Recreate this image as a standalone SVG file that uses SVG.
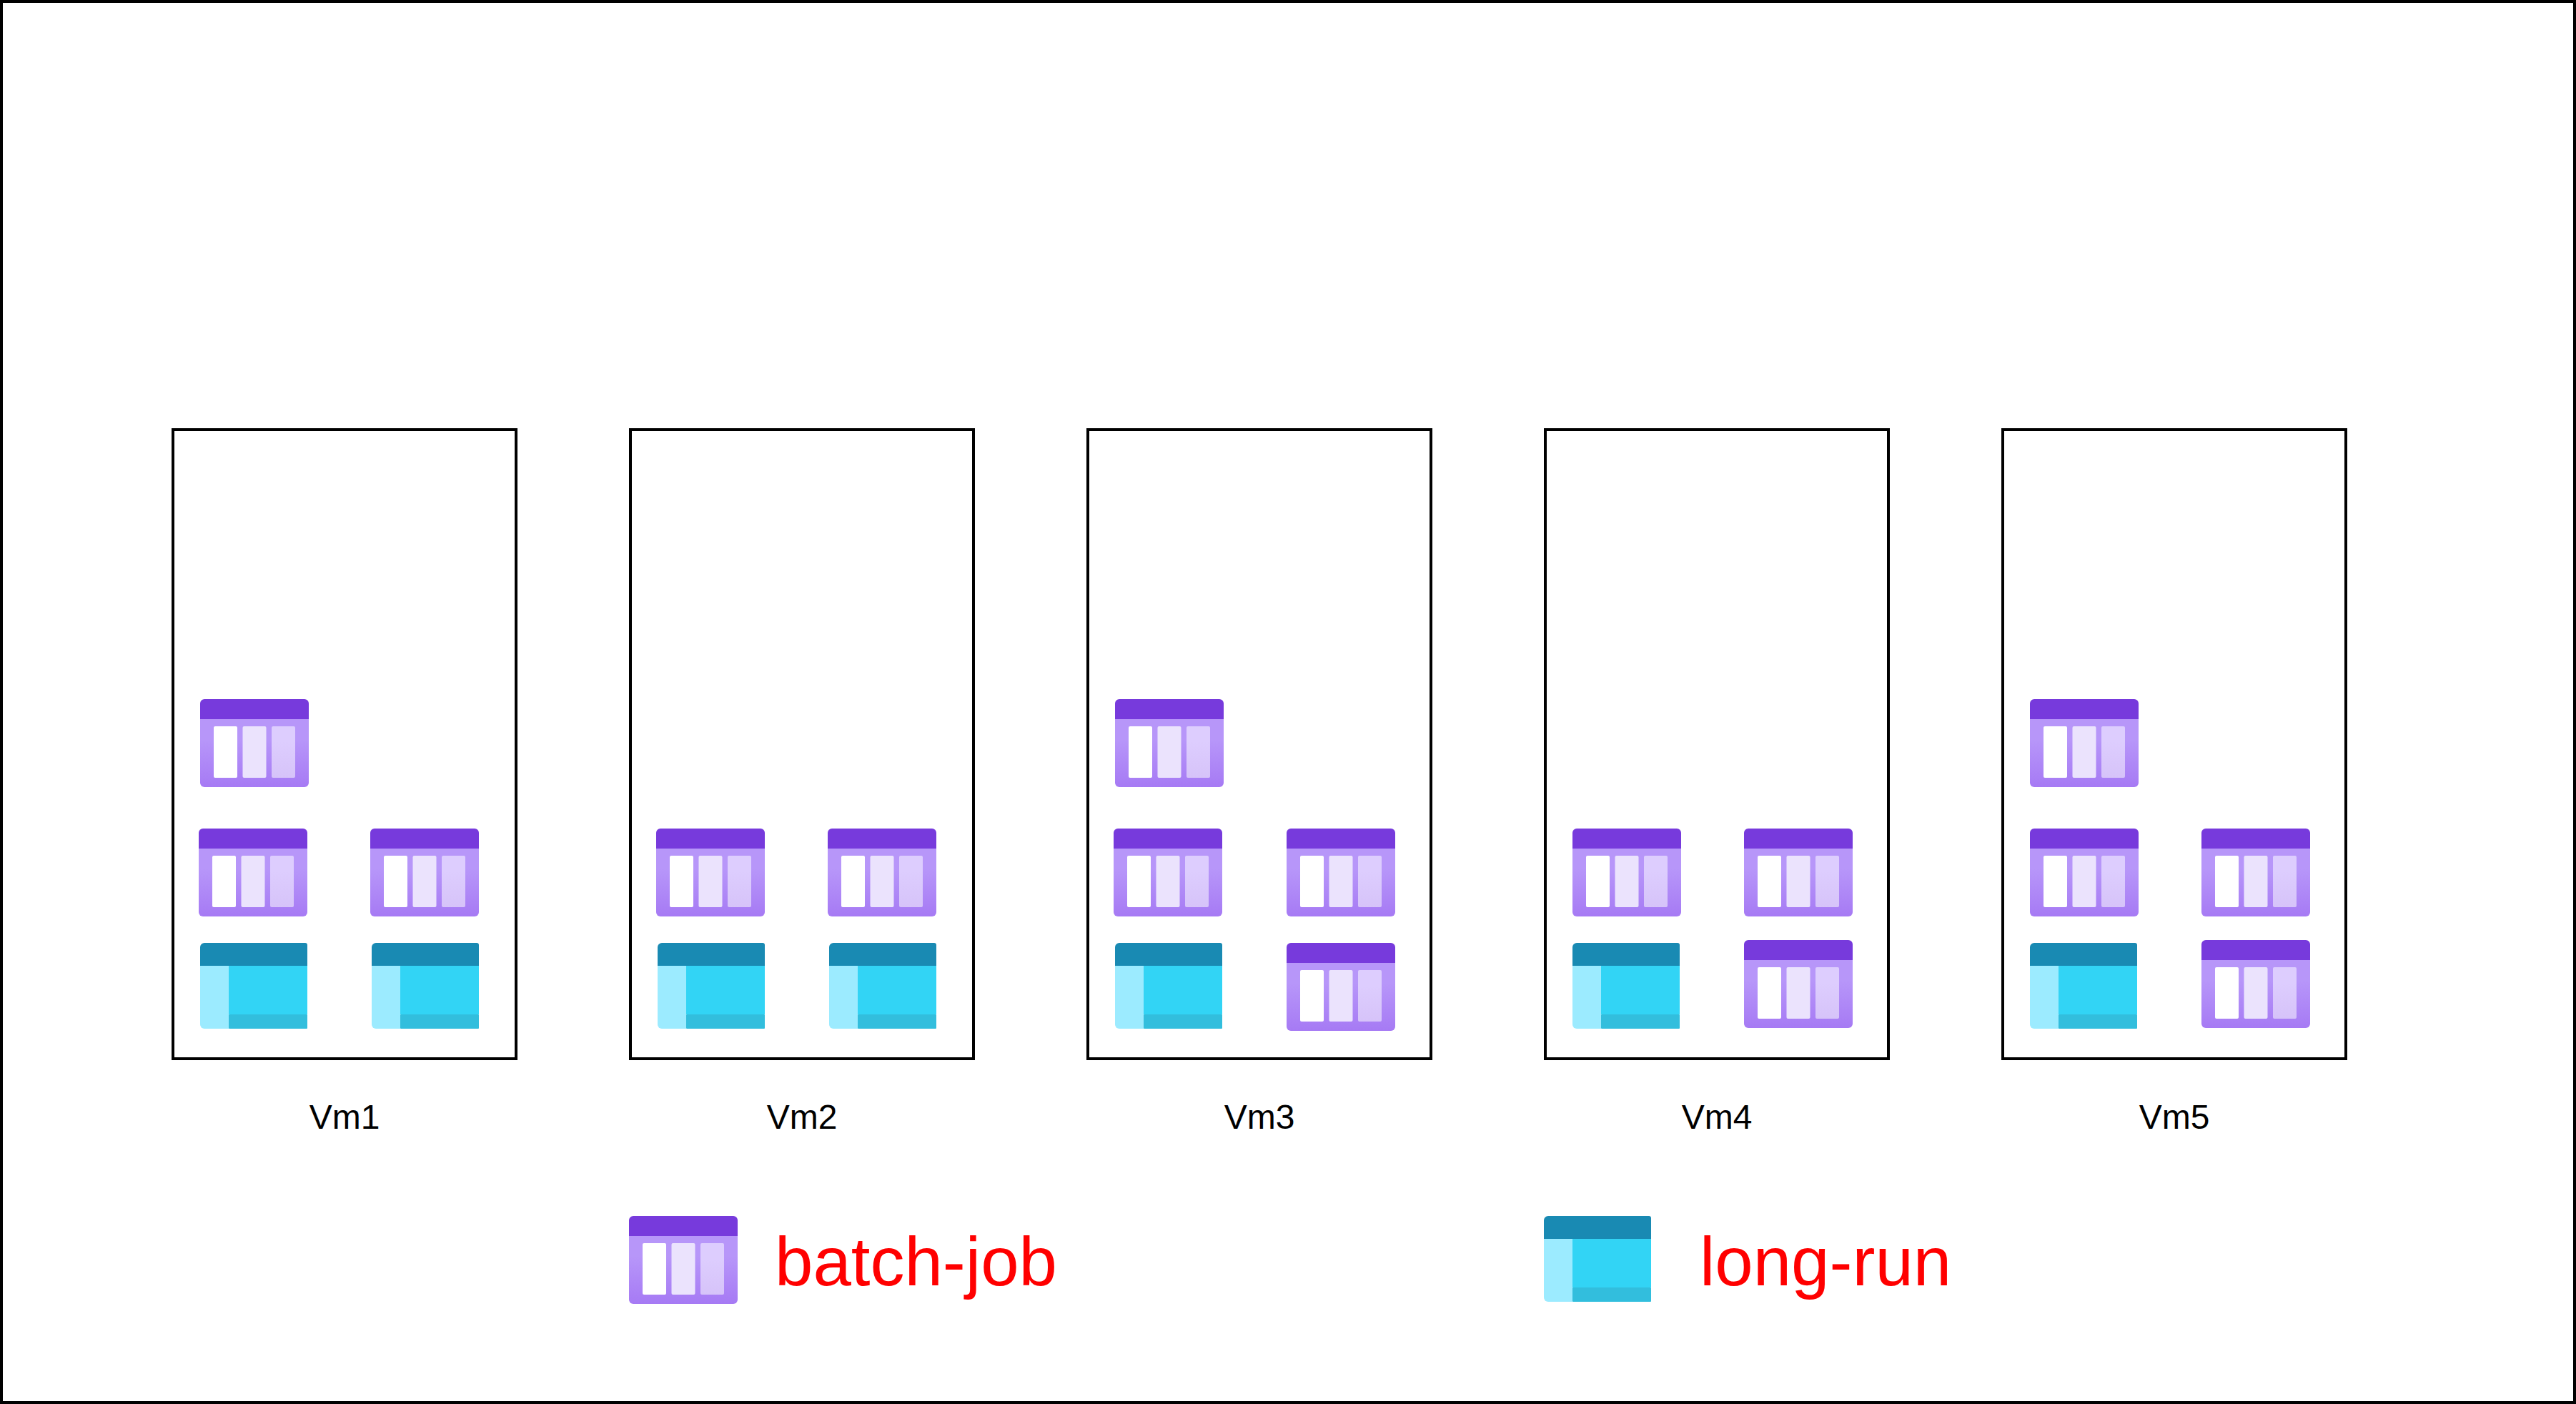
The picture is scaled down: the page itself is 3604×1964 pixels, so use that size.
<svg xmlns="http://www.w3.org/2000/svg" width="3604" height="1964" viewBox="0 0 3604 1964">
<style>
.box{fill:#fff;stroke:#000;stroke-width:4}
.vm{font-family:"Liberation Sans",Arial,sans-serif;font-size:48px;fill:#000;text-anchor:middle}
.leg{font-family:"Liberation Sans",Arial,sans-serif;font-size:96px;fill:#f00}
</style>
<defs>
<linearGradient id="pb" x1="0" y1="0" x2="0" y2="1"><stop offset="0.3" stop-color="#b796f9"/><stop offset="1" stop-color="#a67af4"/></linearGradient>
<linearGradient id="p3" x1="0" y1="0" x2="0" y2="1"><stop offset="0.3" stop-color="#ddcdfe"/><stop offset="1" stop-color="#d6c3f9"/></linearGradient>
<symbol id="batch" width="152" height="123" viewBox="0 0 152 123" overflow="visible">
<path d="M0 28H152V117a6 6 0 0 1-6 6H6a6 6 0 0 1-6-6Z" fill="url(#pb)"/>
<path d="M6 0H146a6 6 0 0 1 6 6V28H0V6a6 6 0 0 1 6-6Z" fill="#773adc"/>
<rect x="19" y="38" width="33" height="72" rx="2" fill="#fff"/>
<rect x="59.500" y="38" width="33" height="72" rx="2" fill="#ebe3fd"/>
<rect x="100" y="38" width="33" height="72" rx="2" fill="url(#p3)"/>
</symbol>
<symbol id="longrun" width="150" height="120" viewBox="0 0 150 120" overflow="visible">
<rect x="40" y="31" width="110" height="69" fill="#32d4f5"/>
<rect x="40" y="100" width="110" height="20" rx="1" fill="#32bedd"/>
<path d="M0 31H40V120H6a6 6 0 0 1-6-6Z" fill="#9cebff"/>
<path d="M6 0H147a3 3 0 0 1 3 3V32H0V6a6 6 0 0 1 6-6Z" fill="#198ab3"/>
</symbol>
</defs>
<rect x="0" y="0" width="3604" height="1964" fill="#fff"/>
<rect id="frame" class="box" x="2" y="2" width="3600" height="1960"/>
<g id="vm1"><rect class="box" x="242" y="601" width="480" height="880"/><text class="vm" x="482" y="1579">Vm1</text></g>
<g id="vm2"><rect class="box" x="882" y="601" width="480" height="880"/><text class="vm" x="1122" y="1579">Vm2</text></g>
<g id="vm3"><rect class="box" x="1522" y="601" width="480" height="880"/><text class="vm" x="1762" y="1579">Vm3</text></g>
<g id="vm4"><rect class="box" x="2162" y="601" width="480" height="880"/><text class="vm" x="2402" y="1579">Vm4</text></g>
<g id="vm5"><rect class="box" x="2802" y="601" width="480" height="880"/><text class="vm" x="3042" y="1579">Vm5</text></g>
<g id="vm1-a"><use href="#batch" x="280" y="978"/></g>
<g id="vm1-b"><use href="#batch" x="278" y="1159"/></g>
<g id="vm1-c"><use href="#batch" x="518" y="1159"/></g>
<g id="vm1-d"><use href="#longrun" x="280" y="1319"/></g>
<g id="vm1-e"><use href="#longrun" x="520" y="1319"/></g>
<g id="vm2-a"><use href="#batch" x="918" y="1159"/></g>
<g id="vm2-b"><use href="#batch" x="1158" y="1159"/></g>
<g id="vm2-c"><use href="#longrun" x="920" y="1319"/></g>
<g id="vm2-d"><use href="#longrun" x="1160" y="1319"/></g>
<g id="vm3-a"><use href="#batch" x="1560" y="978"/></g>
<g id="vm3-b"><use href="#batch" x="1558" y="1159"/></g>
<g id="vm3-c"><use href="#batch" x="1800" y="1159"/></g>
<g id="vm3-d"><use href="#longrun" x="1560" y="1319"/></g>
<g id="vm3-e"><use href="#batch" x="1800" y="1319"/></g>
<g id="vm4-a"><use href="#batch" x="2200" y="1159"/></g>
<g id="vm4-b"><use href="#batch" x="2440" y="1159"/></g>
<g id="vm4-c"><use href="#longrun" x="2200" y="1319"/></g>
<g id="vm4-d"><use href="#batch" x="2440" y="1315"/></g>
<g id="vm5-a"><use href="#batch" x="2840" y="978"/></g>
<g id="vm5-b"><use href="#batch" x="2840" y="1159"/></g>
<g id="vm5-c"><use href="#batch" x="3080" y="1159"/></g>
<g id="vm5-d"><use href="#longrun" x="2840" y="1319"/></g>
<g id="vm5-e"><use href="#batch" x="3080" y="1315"/></g>
<g id="legend-batch"><use href="#batch" x="880" y="1701"/><text class="leg" x="1084" y="1798">batch-job</text></g>
<g id="legend-long"><use href="#longrun" x="2160" y="1701"/><text class="leg" x="2378" y="1798">long-run</text></g>
</svg>
